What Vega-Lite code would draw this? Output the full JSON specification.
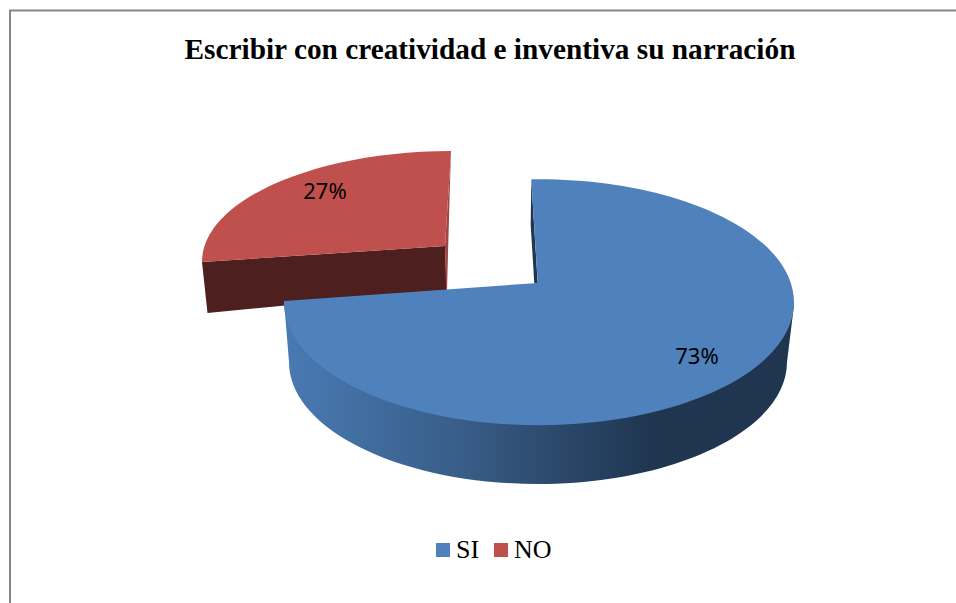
{
  "$schema": "https://vega.github.io/schema/vega-lite/v6.json",
  "width": 956,
  "height": 603,
  "autosize": {"type": "none"},
  "padding": 0,
  "background": "white",
  "view": {"stroke": null},
  "title": {
    "text": "Escribir con creatividad e inventiva su narración",
    "font": "Liberation Serif",
    "fontWeight": "bold",
    "fontSize": 29.3,
    "color": "black",
    "anchor": "middle",
    "frame": "group",
    "dx": 12,
    "offset": -65
  },
  "data": {"values": [
    {"categoria": "SI", "porcentaje": 0.73},
    {"categoria": "NO", "porcentaje": 0.27}
  ]},
  "encoding": {
    "fill": {
      "field": "categoria",
      "type": "nominal",
      "scale": {"domain": ["SI", "NO"], "range": ["#4f81bd", "#c0504d"]},
      "legend": {
        "title": null,
        "orient": "none",
        "legendX": 430,
        "legendY": 537,
        "direction": "horizontal",
        "columns": 2,
        "symbolType": "square",
        "symbolSize": 196,
        "symbolStrokeWidth": 0,
        "labelFont": "Liberation Serif",
        "labelFontSize": 26,
        "labelColor": "black",
        "labelOffset": 0,
        "columnPadding": 8,
        "labelLimit": 100
      }
    }
  },
  "layer": [
    {
      "transform": [{"filter": "datum.categoria == 'SI'"}],
      "mark": {"type": "point", "filled": false, "opacity": 1, "size": 4, "fill": "transparent", "stroke": "#868686", "strokeWidth": 2,
        "shape": "M-468 301.5L-468 -291L478 -291"},
      "encoding": {"fill": {"value": "transparent"}}
    },
    {
      "transform": [{"filter": "datum.categoria == 'NO'"}],
      "mark": {"type": "point", "filled": true, "opacity": 1, "size": 4,
        "shape": "M-276 -39.5L-270.5 11.5L-31.5 -11.5L-33 -55.5Z"},
      "encoding": {"fill": {"value": "#4d1f1e"}}
    },
    {
      "transform": [{"filter": "datum.categoria == 'NO'"}],
      "mark": {"type": "point", "filled": true, "opacity": 1, "size": 4,
        "shape": "M-27 -150.5L-28.5 -101.5L-31 -11.5L-32 -11.5L-33 -55.5Z"},
      "encoding": {"fill": {"value": "#a04543"}}
    },
    {
      "transform": [{"filter": "datum.categoria == 'SI'"}],
      "mark": {"type": "point", "filled": true, "opacity": 1, "size": 4,
        "shape": "M-194 -0.5L-189 60.5A249 122 0 0 0 309 60.5L316 3.5Z"},
      "encoding": {"fill": {"value": {"gradient": "linear", "x1": 0, "y1": 0, "x2": 1, "y2": 0, "stops": [
          {"offset": 0, "color": "#4a7ab4"},
          {"offset": 0.36, "color": "#375c86"},
          {"offset": 0.72, "color": "#1f3550"},
          {"offset": 1, "color": "#1f3550"}
        ]}}}
    },
    {
      "transform": [{"filter": "datum.categoria == 'SI'"}],
      "mark": {"type": "point", "filled": true, "opacity": 1, "size": 4,
        "shape": "M53.3 -121.5L52.7 -76.5L56.3 -18.2L59.7 -18.5Z"},
      "encoding": {"fill": {"value": "#1f3550"}}
    },
    {
      "transform": [{"filter": "datum.categoria == 'SI'"}],
      "mark": {"type": "point", "filled": true, "opacity": 1, "size": 4,
        "shape": "M53.3 -122.2A255 123 0 1 1 -194 -0.5L59.7 -18.5Z"}
    },
    {
      "transform": [{"filter": "datum.categoria == 'NO'"}],
      "mark": {"type": "point", "filled": true, "opacity": 1, "size": 4,
        "shape": "M-27 -150.5A250 111 0 0 0 -276 -39.5L-33 -55.5Z"}
    },
    {
      "transform": [{"filter": "datum.categoria == 'SI'"}],
      "mark": {"type": "text", "font": "Noto Sans", "fontSize": 22, "color": "black", "dx": 219, "dy": 55.5, "baseline": "middle", "align": "center"},
      "encoding": {"fill": {"value": "black"}, "text": {"field": "porcentaje", "type": "quantitative", "format": ".0%"}}
    },
    {
      "transform": [{"filter": "datum.categoria == 'NO'"}],
      "mark": {"type": "text", "font": "Noto Sans", "fontSize": 22, "color": "black", "dx": -153, "dy": -109.5, "baseline": "middle", "align": "center"},
      "encoding": {"fill": {"value": "black"}, "text": {"field": "porcentaje", "type": "quantitative", "format": ".0%"}}
    }
  ]
}
